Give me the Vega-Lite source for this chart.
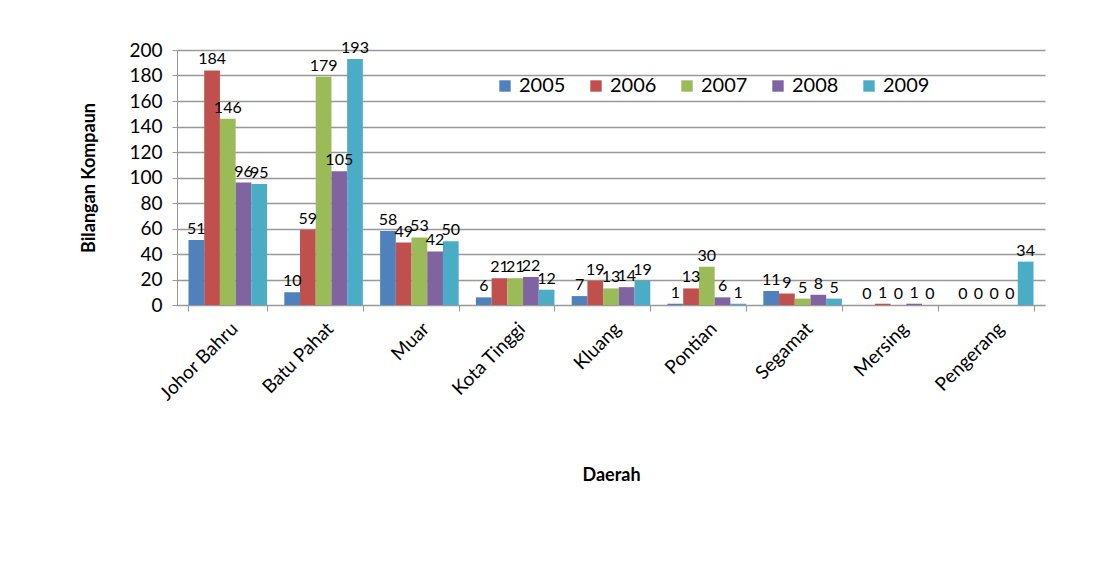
{
  "$schema": "https://vega.github.io/schema/vega-lite/v6.json",
  "width": 868,
  "height": 255,
  "autosize": "none",
  "padding": {"left": 177, "top": 50, "right": 60, "bottom": 273},
  "background": "white",
  "config": {
    "font": "Lato",
    "view": {"stroke": null},
    "axis": {"labelFont": "Lato", "titleFont": "Lato"},
    "legend": {"labelFont": "Lato"}
  },
  "data": {
    "values": [
      {"Daerah": "Johor Bahru", "Tahun": "2005", "n": 51},
      {"Daerah": "Johor Bahru", "Tahun": "2006", "n": 184},
      {"Daerah": "Johor Bahru", "Tahun": "2007", "n": 146},
      {"Daerah": "Johor Bahru", "Tahun": "2008", "n": 96},
      {"Daerah": "Johor Bahru", "Tahun": "2009", "n": 95},
      {"Daerah": "Batu Pahat", "Tahun": "2005", "n": 10},
      {"Daerah": "Batu Pahat", "Tahun": "2006", "n": 59},
      {"Daerah": "Batu Pahat", "Tahun": "2007", "n": 179},
      {"Daerah": "Batu Pahat", "Tahun": "2008", "n": 105},
      {"Daerah": "Batu Pahat", "Tahun": "2009", "n": 193},
      {"Daerah": "Muar", "Tahun": "2005", "n": 58},
      {"Daerah": "Muar", "Tahun": "2006", "n": 49},
      {"Daerah": "Muar", "Tahun": "2007", "n": 53},
      {"Daerah": "Muar", "Tahun": "2008", "n": 42},
      {"Daerah": "Muar", "Tahun": "2009", "n": 50},
      {"Daerah": "Kota Tinggi", "Tahun": "2005", "n": 6},
      {"Daerah": "Kota Tinggi", "Tahun": "2006", "n": 21},
      {"Daerah": "Kota Tinggi", "Tahun": "2007", "n": 21},
      {"Daerah": "Kota Tinggi", "Tahun": "2008", "n": 22},
      {"Daerah": "Kota Tinggi", "Tahun": "2009", "n": 12},
      {"Daerah": "Kluang", "Tahun": "2005", "n": 7},
      {"Daerah": "Kluang", "Tahun": "2006", "n": 19},
      {"Daerah": "Kluang", "Tahun": "2007", "n": 13},
      {"Daerah": "Kluang", "Tahun": "2008", "n": 14},
      {"Daerah": "Kluang", "Tahun": "2009", "n": 19},
      {"Daerah": "Pontian", "Tahun": "2005", "n": 1},
      {"Daerah": "Pontian", "Tahun": "2006", "n": 13},
      {"Daerah": "Pontian", "Tahun": "2007", "n": 30},
      {"Daerah": "Pontian", "Tahun": "2008", "n": 6},
      {"Daerah": "Pontian", "Tahun": "2009", "n": 1},
      {"Daerah": "Segamat", "Tahun": "2005", "n": 11},
      {"Daerah": "Segamat", "Tahun": "2006", "n": 9},
      {"Daerah": "Segamat", "Tahun": "2007", "n": 5},
      {"Daerah": "Segamat", "Tahun": "2008", "n": 8},
      {"Daerah": "Segamat", "Tahun": "2009", "n": 5},
      {"Daerah": "Mersing", "Tahun": "2005", "n": 0},
      {"Daerah": "Mersing", "Tahun": "2006", "n": 1},
      {"Daerah": "Mersing", "Tahun": "2007", "n": 0},
      {"Daerah": "Mersing", "Tahun": "2008", "n": 1},
      {"Daerah": "Mersing", "Tahun": "2009", "n": 0},
      {"Daerah": "Pengerang", "Tahun": "2005", "n": 0},
      {"Daerah": "Pengerang", "Tahun": "2006", "n": 0},
      {"Daerah": "Pengerang", "Tahun": "2007", "n": 0},
      {"Daerah": "Pengerang", "Tahun": "2008", "n": 0},
      {"Daerah": "Pengerang", "Tahun": "2009", "n": 34}
    ]
  },
  "encoding": {
    "x": {
      "field": "Daerah",
      "type": "nominal",
      "sort": ["Johor Bahru", "Batu Pahat", "Muar", "Kota Tinggi", "Kluang", "Pontian", "Segamat", "Mersing", "Pengerang"],
      "scale": {"paddingInner": 0.18, "paddingOuter": 0.12},
      "axis": {
        "title": "Daerah",
        "titleFontSize": 18,
        "titleFontWeight": "bold",
        "titleColor": "#000",
        "titlePadding": 62,
        "labelAngle": -45,
        "labelFontSize": 19,
        "labelColor": "#000",
        "labelPadding": 8,
        "domainColor": "#999",
        "tickColor": "#999",
        "tickBand": "extent",
        "tickSize": 6,
        "grid": false
      }
    },
    "xOffset": {"field": "Tahun", "type": "nominal"},
    "y": {
      "field": "n",
      "type": "quantitative",
      "scale": {"domain": [0, 200]},
      "axis": {
        "title": "Bilangan  Kompaun",
        "titleFontSize": 18,
        "titleFontWeight": "bold",
        "titleColor": "#000",
        "titlePadding": 30,
        "labelFontSize": 19,
        "labelColor": "#000",
        "labelPadding": 10,
        "values": [0, 20, 40, 60, 80, 100, 120, 140, 160, 180, 200],
        "gridColor": "#999",
        "gridWidth": 1.5,
        "domainColor": "#999",
        "tickColor": "#999"
      }
    }
  },
  "layer": [
    {
      "mark": {"type": "bar", "stroke": null},
      "encoding": {
        "color": {
          "field": "Tahun",
          "type": "nominal",
          "scale": {
            "domain": ["2005", "2006", "2007", "2008", "2009"],
            "range": ["#4F81BD", "#C0504D", "#9BBB59", "#8064A2", "#4BACC6"]
          },
          "legend": {
            "title": null,
            "orient": "none",
            "direction": "horizontal",
            "legendX": 318,
            "legendY": 26,
            "symbolType": "square",
            "symbolSize": 130,
            "symbolStrokeWidth": 0,
            "labelFontSize": 20,
            "labelColor": "#000",
            "columnPadding": 20
          }
        }
      }
    },
    {
      "mark": {"type": "text", "baseline": "bottom", "dy": -3, "fontSize": 16, "color": "#000"},
      "encoding": {"text": {"field": "n", "type": "quantitative"}}
    }
  ]
}
